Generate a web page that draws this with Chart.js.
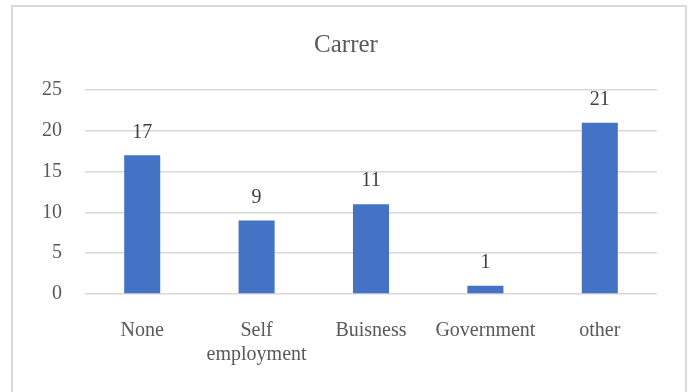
<!DOCTYPE html>
<html>
<head>
<meta charset="utf-8">
<script src="https://cdn.jsdelivr.net/npm/chart.js@4.4.1/dist/chart.umd.min.js"></script>
<style>
  html, body { margin: 0; padding: 0; background: #fff; }
  #frame {
    position: absolute; left: 11px; top: 5px;
    width: 672px; height: 400px;
    border: 2px solid #d9d9d9; box-sizing: content-box;
  }
  #chart { position: absolute; left: 0; top: 0; }
</style>
</head>
<body>
<div id="frame"></div>
<canvas id="chart" width="692" height="392"></canvas>
<script>
  const categories = ['None', ['Self', 'employment'], 'Buisness', 'Government', 'other'];
  const counts = [17, 9, 11, 1, 21];
  const yTicks = [0, 5, 10, 15, 20, 25];

  const serif = '"Liberation Serif", "Times New Roman", serif';

  // value labels above each bar
  const barValues = {
    id: 'barValues',
    afterDatasetsDraw(chart) {
      const ctx = chart.ctx;
      const meta = chart.getDatasetMeta(0);
      ctx.save();
      ctx.font = '20px ' + serif;
      ctx.fillStyle = '#404040';
      ctx.textAlign = 'center';
      ctx.textBaseline = 'middle';
      meta.data.forEach((bar, i) => {
        ctx.fillText(String(counts[i]), bar.x, bar.y - 23);
      });
      ctx.restore();
    }
  };

  const ctx = document.getElementById('chart').getContext('2d');
  new Chart(ctx, {
    type: 'bar',
    data: {
      labels: categories,
      datasets: [{
        data: counts,
        backgroundColor: '#4472C4',
        borderWidth: 0,
        barPercentage: 0.315,
        categoryPercentage: 1
      }]
    },
    options: {
      responsive: false,
      animation: false,
      layout: { padding: { left: 35, right: 35, top: 0, bottom: 0 } },
      plugins: {
        legend: { display: false },
        tooltip: { enabled: false },
        title: {
          display: true,
          text: 'Carrer',
          color: '#595959',
          font: { family: serif, size: 25, weight: 'normal' },
          padding: { top: 30, bottom: 30 }
        }
      },
      scales: {
        x: {
          grid: { display: false },
          border: { display: false },
          ticks: {
            color: '#595959',
            font: { family: serif, size: 20, lineHeight: 1.2 },
            padding: 17,
            maxRotation: 0
          },
          afterFit(scale) { scale.height = 98; }
        },
        y: {
          min: 0,
          max: 25,
          afterBuildTicks(scale) { scale.ticks = yTicks.map(v => ({ value: v })); },
          grid: { color: '#d9d9d9', lineWidth: 1.5, drawTicks: false },
          border: { display: false },
          ticks: {
            color: '#595959',
            font: { family: serif, size: 20 },
            padding: 23
          },
          afterFit(scale) { scale.width = 50; }
        }
      }
    },
    plugins: [barValues]
  });
</script>
</body>
</html>
